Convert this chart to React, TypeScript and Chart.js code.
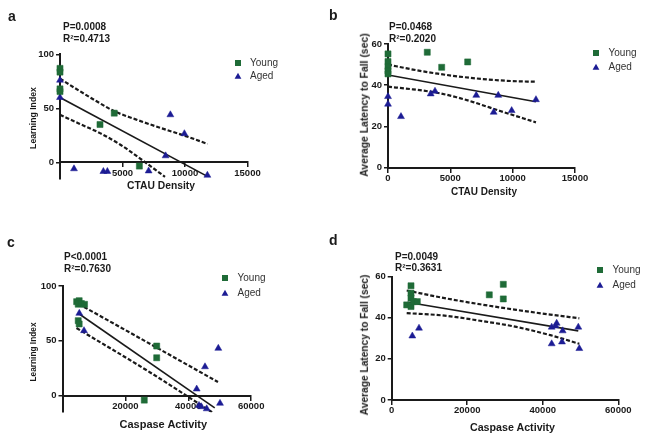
import React, { useEffect, useRef } from "react";
import { Chart, registerables } from "chart.js";

Chart.register(...registerables);

// ---------------- Panel a : Learning Index vs CTAU Density ----------------
const aYoungX = [0, 0, 0, 0, 3200, 4340, 6350];
const aYoungY = [87, 83.5, 68, 65.5, 35, 45.5, -3.5];
const aAgedX = [0, 0, 1120, 3470, 3790, 7090, 8450, 8830, 9950, 11790];
const aAgedY = [76, 60, -6, -8.5, -8.5, -8, 6, 44, 26.5, -12];
const aFitX = [0, 11790];
const aFitY = [60, -13];
const aUpperX = [0, 1500, 3000, 4300, 6000, 8000, 10000, 11800];
const aUpperY = [77.5, 66.5, 56, 47.5, 40, 32, 24.5, 17];
const aLowerX = [0, 1500, 3200, 4800, 6700, 8400];
const aLowerY = [44, 36, 27, 16.5, 1, -13.5];
const aXTicks = [0, 5000, 10000, 15000];
const aYTicks = [0, 50, 100];

// ---------------- Panel b : Latency vs CTAU Density ----------------
const bYoungX = [0, 0, 0, 0, 0, 3150, 4306, 6391];
const bYoungY = [55.2, 51.5, 49, 47, 45.5, 56, 48.7, 51.3];
const bAgedX = [0, 0, 1042, 3424, 3769, 7081, 8476, 8845, 9920, 11868];
const bAgedY = [34.5, 30.8, 24.8, 35.8, 37.1, 35.1, 26.9, 35.1, 27.7, 33];
const bFitX = [0, 11868];
const bFitY = [45, 32];
const bUpperX = [0, 2000, 4000, 6000, 8000, 10000, 11868];
const bUpperY = [50, 47.6, 45.6, 44, 42.8, 42, 41.7];
const bLowerX = [0, 2000, 3800, 5500, 7000, 9000, 11868];
const bLowerY = [39.3, 38, 36.5, 34.2, 31.5, 27.5, 22];
const bXTicks = [0, 5000, 10000, 15000];
const bYTicks = [0, 20, 40, 60];

// ---------------- Panel c : Learning Index vs Caspase Activity ----------------
const cYoungX = [4500, 5300, 5000, 6000, 7000, 5000, 5300, 29950, 29950, 26000];
const cYoungY = [85.7, 86.6, 83.4, 84, 83.3, 68.4, 65.4, 45.3, 34.6, -4];
const cAgedX = [5340, 6840, 42670, 45310, 49540, 43400, 44130, 45850, 50080];
const cAgedY = [75.1, 59.3, 6.1, 26.4, 43.2, -8.8, -10, -11.9, -6.9];
const cFitX = [5560, 48400];
const cFitY = [74, -11];
const cUpperX = [6840, 28000, 49440];
const cUpperY = [80.9, 47, 12.5];
const cLowerX = [4450, 28000, 47540];
const cLowerY = [61.7, 21, -15];
const cXTicks = [0, 20000, 40000, 60000];
const cYTicks = [0, 50, 100];

// ---------------- Panel d : Latency vs Caspase Activity ----------------
const dYoungX = [5110, 5110, 5110, 3970, 5110, 5720, 6780, 25840, 29550, 29550];
const dYoungY = [55.5, 51.9, 49.5, 46.2, 45.4, 47.8, 47.8, 51.1, 56.2, 49.1];
const dAgedX = [5460, 7230, 42360, 42360, 43680, 43400, 45270, 45090, 49410, 49680];
const dAgedY = [31.1, 34.9, 35.4, 27.3, 37.3, 36, 33.6, 28.2, 35.4, 25];
const dFitX = [4140, 49400];
const dFitY = [47.5, 33.6];
const dUpperX = [3970, 14000, 23400, 33000, 42000, 49680];
const dUpperY = [53.2, 49.5, 46.5, 43.8, 41.5, 39.7];
const dLowerX = [3970, 14000, 23400, 33000, 42000, 49680];
const dLowerY = [42.2, 41, 38.5, 35.5, 31.5, 27.3];
const dXTicks = [0, 20000, 40000, 60000];
const dYTicks = [0, 20, 40, 60];

const seriesLabels = ["Young", "Aged"];

const GREEN = "#1f6b37";
const BLUE = "#1c1c94";
const INK = "#1a1a1a";
const FONT = "'Liberation Sans', Arial, Helvetica, sans-serif";

const zip = (xs: number[], ys: number[]) => xs.map((x, i) => ({ x, y: ys[i] }));

type Pt = { x: number; y: number };
type PanelCfg = {
  left: number;
  top: number;
  w: number;
  h: number;
  pad: { left: number; right: number; top: number; bottom: number };
  xMax: number;
  yMin: number;
  yMax: number;
  xTicks: number[];
  yTicks: number[];
  hideZeroX: boolean;
  young: Pt[];
  aged: Pt[];
  fit: Pt[];
  upper: Pt[];
  lower: Pt[];
};

const Y_AXIS_W = 30;

const panels: PanelCfg[] = [
  {
    left: 0, top: 0, w: 325, h: 221,
    pad: { left: 60 - Y_AXIS_W, right: 77.5, top: 54.3, bottom: 42.5 },
    xMax: 15000, yMin: -15, yMax: 100, xTicks: aXTicks, yTicks: aYTicks, hideZeroX: true,
    young: zip(aYoungX, aYoungY), aged: zip(aAgedX, aAgedY), fit: zip(aFitX, aFitY),
    upper: zip(aUpperX, aUpperY), lower: zip(aLowerX, aLowerY),
  },
  {
    left: 325, top: 0, w: 324, h: 221,
    pad: { left: 63 - Y_AXIS_W, right: 74, top: 44, bottom: 53.3 },
    xMax: 15000, yMin: 0, yMax: 60, xTicks: bXTicks, yTicks: bYTicks, hideZeroX: false,
    young: zip(bYoungX, bYoungY), aged: zip(bAgedX, bAgedY), fit: zip(bFitX, bFitY),
    upper: zip(bUpperX, bUpperY), lower: zip(bLowerX, bLowerY),
  },
  {
    left: 0, top: 221, w: 325, h: 221,
    pad: { left: 62.5 - Y_AXIS_W, right: 73.8, top: 65, bottom: 29.8 },
    xMax: 60000, yMin: -15, yMax: 100, xTicks: cXTicks, yTicks: cYTicks, hideZeroX: true,
    young: zip(cYoungX, cYoungY), aged: zip(cAgedX, cAgedY), fit: zip(cFitX, cFitY),
    upper: zip(cUpperX, cUpperY), lower: zip(cLowerX, cLowerY),
  },
  {
    left: 325, top: 221, w: 324, h: 221,
    pad: { left: 66.7 - Y_AXIS_W, right: 30.7, top: 55.5, bottom: 42 },
    xMax: 60000, yMin: 0, yMax: 60, xTicks: dXTicks, yTicks: dYTicks, hideZeroX: false,
    young: zip(dYoungX, dYoungY), aged: zip(dAgedX, dAgedY), fit: zip(dFitX, dFitY),
    upper: zip(dUpperX, dUpperY), lower: zip(dLowerX, dLowerY),
  },
];

const tickFont = { family: FONT, size: 9.5, weight: "bold" as const };

function Panel({ cfg }: { cfg: PanelCfg }) {
  const ref = useRef<HTMLCanvasElement>(null);
  useEffect(() => {
    const canvas = ref.current;
    if (!canvas) return;
    const band = (data: Pt[], label: string) => ({
      label,
      data,
      showLine: true,
      pointRadius: 0,
      borderColor: INK,
      borderWidth: 2.2,
      borderDash: [4, 2],
      cubicInterpolationMode: "monotone",
      fill: false,
    });
    const chart = new Chart(canvas, {
      type: "scatter",
      data: {
        datasets: [
          {
            label: seriesLabels[0],
            data: cfg.young,
            pointStyle: "rect",
            pointRadius: 4.3,
            backgroundColor: GREEN,
            borderColor: GREEN,
            borderWidth: 0.5,
            clip: false,
          },
          {
            label: seriesLabels[1],
            data: cfg.aged,
            pointStyle: "triangle",
            pointRadius: 4,
            backgroundColor: BLUE,
            borderColor: BLUE,
            borderWidth: 0.5,
            clip: false,
          },
          {
            label: "fit",
            data: cfg.fit,
            showLine: true,
            pointRadius: 0,
            borderColor: INK,
            borderWidth: 1.6,
            fill: false,
          },
          band(cfg.upper, "upper"),
          band(cfg.lower, "lower"),
        ] as any,
      },
      options: {
        animation: false,
        responsive: false,
        maintainAspectRatio: false,
        devicePixelRatio: 1,
        events: [],
        layout: { padding: cfg.pad },
        plugins: { legend: { display: false }, tooltip: { enabled: false } },
        scales: {
          x: {
            type: "linear",
            min: 0,
            max: cfg.xMax,
            position: { y: 0 } as any,
            afterBuildTicks: (s: any) => {
              s.ticks = cfg.xTicks.map((v) => ({ value: v }));
            },
            ticks: {
              autoSkip: false,
              maxRotation: 0,
              padding: 1,
              color: INK,
              font: tickFont,
              callback: (v: any) => (cfg.hideZeroX && Number(v) === 0 ? "" : String(v)),
            },
            grid: {
              display: true,
              drawOnChartArea: false,
              drawTicks: true,
              tickLength: 4,
              color: INK,
              lineWidth: 1.5,
            },
            border: { display: true, color: INK, width: 2 },
          },
          y: {
            type: "linear",
            min: cfg.yMin,
            max: cfg.yMax,
            position: "left",
            afterFit: (s: any) => {
              s.width = Y_AXIS_W;
            },
            afterBuildTicks: (s: any) => {
              s.ticks = cfg.yTicks.map((v) => ({ value: v }));
            },
            ticks: {
              autoSkip: false,
              padding: 2,
              color: INK,
              font: tickFont,
              callback: (v: any) => String(v),
            },
            grid: {
              display: true,
              drawOnChartArea: false,
              drawTicks: true,
              tickLength: 4,
              color: INK,
              lineWidth: 1.5,
            },
            border: { display: true, color: INK, width: 2 },
          },
        },
      } as any,
    });
    return () => chart.destroy();
  }, [cfg]);
  return (
    <canvas
      ref={ref}
      width={cfg.w}
      height={cfg.h}
      style={{ position: "absolute", left: cfg.left, top: cfg.top, width: cfg.w, height: cfg.h }}
    />
  );
}

type TextProps = {
  x: number;
  y: number;
  size: number;
  bold?: boolean;
  rotate?: boolean;
  center?: boolean;
  color?: string;
  children: React.ReactNode;
};

function Txt({ x, y, size, bold, rotate, center, color, children }: TextProps) {
  const transform = rotate
    ? "translate(-50%, -50%) rotate(-90deg)"
    : center
    ? "translate(-50%, -50%)"
    : "translate(0, -50%)";
  return (
    <div
      style={{
        position: "absolute",
        left: x,
        top: y,
        transform,
        fontFamily: FONT,
        fontSize: size,
        fontWeight: bold ? 700 : 400,
        lineHeight: `${size}px`,
        whiteSpace: "nowrap",
        color: color || INK,
      }}
    >
      {children}
    </div>
  );
}

function Legend({ x, y, gap }: { x: number; y: number; gap: number }) {
  return (
    <>
      <svg
        style={{ position: "absolute", left: x - 4, top: y - 4, overflow: "visible" }}
        width={8}
        height={8}
      >
        <rect x={1} y={1} width={6} height={6} fill={GREEN} />
      </svg>
      <svg
        style={{ position: "absolute", left: x - 4, top: y + gap - 4, overflow: "visible" }}
        width={8}
        height={8}
      >
        <polygon points="4,0.8 7.4,6.8 0.6,6.8" fill={BLUE} />
      </svg>
      <Txt x={x + 12.5} y={y} size={10} color="#333">
        {seriesLabels[0]}
      </Txt>
      <Txt x={x + 12.5} y={y + gap} size={10} color="#333">
        {seriesLabels[1]}
      </Txt>
    </>
  );
}

export default function App() {
  useEffect(() => {
    document.body.style.margin = "0";
  }, []);
  return (
    <div
      style={{
        position: "fixed",
        left: 0,
        top: 0,
        width: 649,
        height: 442,
        background: "#fff",
        overflow: "hidden",
      }}
    >
      {panels.map((p, i) => (
        <Panel key={i} cfg={p} />
      ))}

      {/* panel a */}
      <Txt x={8} y={15.5} size={14} bold>a</Txt>
      <Txt x={63} y={27} size={10} bold>P=0.0008</Txt>
      <Txt x={63} y={39} size={10} bold>R²=0.4713</Txt>
      <Legend x={237.5} y={62.5} gap={13.5} />
      <Txt x={33} y={118.3} size={8.7} bold rotate>Learning Index</Txt>
      <Txt x={161} y={186} size={10.3} bold center>CTAU Density</Txt>

      {/* panel b */}
      <Txt x={329} y={15} size={14} bold>b</Txt>
      <Txt x={389} y={27.3} size={10} bold>P=0.0468</Txt>
      <Txt x={389} y={39.3} size={10} bold>R²=0.2020</Txt>
      <Legend x={596} y={52.5} gap={14.3} />
      <Txt x={365} y={105} size={10.4} bold rotate>Average Latency to Fall (sec)</Txt>
      <Txt x={484} y={191.5} size={10} bold center>CTAU Density</Txt>

      {/* panel c */}
      <Txt x={7} y={242.3} size={14} bold>c</Txt>
      <Txt x={64} y={257.3} size={10} bold>P&lt;0.0001</Txt>
      <Txt x={64} y={269.3} size={10} bold>R²=0.7630</Txt>
      <Legend x={225} y={278.3} gap={15} />
      <Txt x={33.3} y={352.3} size={8.3} bold rotate>Learning Index</Txt>
      <Txt x={163.3} y={424.3} size={11} bold center>Caspase Activity</Txt>

      {/* panel d */}
      <Txt x={329} y={240} size={14} bold>d</Txt>
      <Txt x={395} y={256.7} size={10} bold>P=0.0049</Txt>
      <Txt x={395} y={268.3} size={10} bold>R²=0.3631</Txt>
      <Legend x={600} y={270} gap={15} />
      <Txt x={365} y={345} size={10.2} bold rotate>Average Latency to Fall (sec)</Txt>
      <Txt x={512.5} y={426.7} size={10.7} bold center>Caspase Activity</Txt>
    </div>
  );
}
